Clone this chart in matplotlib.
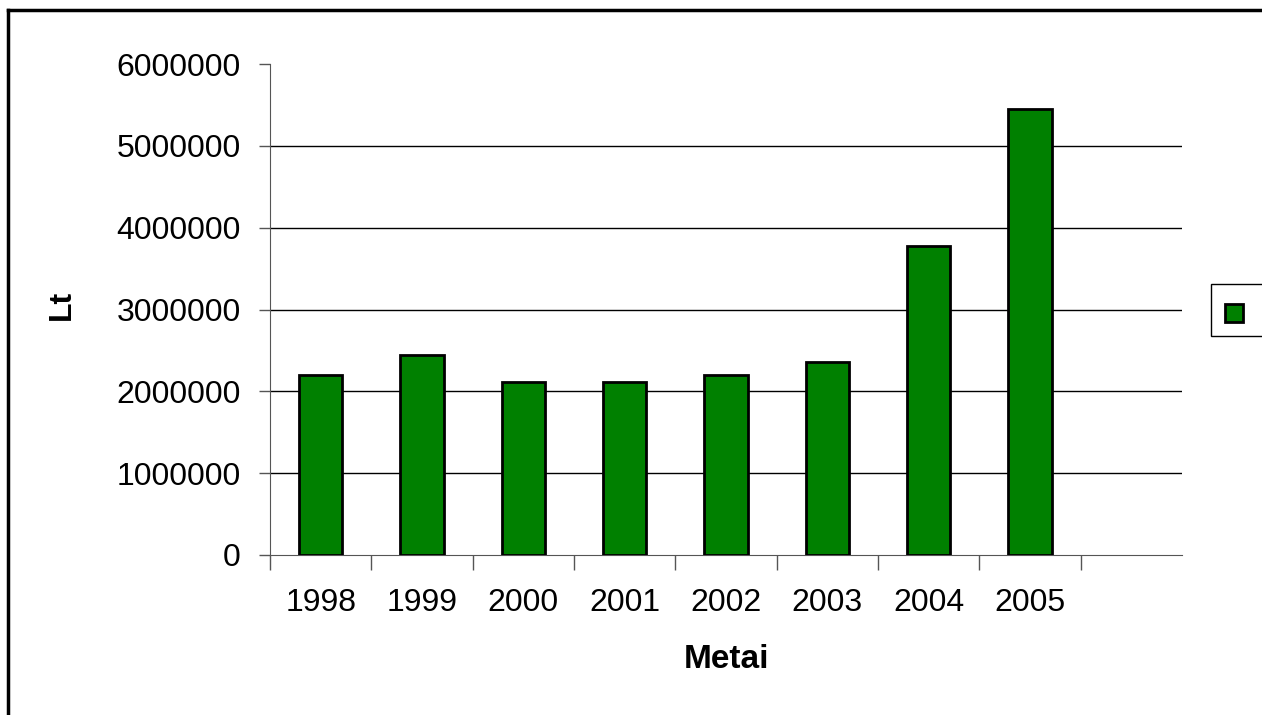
import matplotlib.pyplot as plt
from matplotlib.patches import Rectangle
from matplotlib.lines import Line2D

# data
years = ['1998', '1999', '2000', '2001', '2002', '2003', '2004', '2005', '']
values = [2200000, 2450000, 2110000, 2110000, 2200000, 2360000, 3780000, 5450000, 0]
yticks = [0, 1000000, 2000000, 3000000, 4000000, 5000000, 6000000]

plt.rcParams['font.family'] = ['Liberation Sans', 'DejaVu Sans']

fig = plt.figure(figsize=(12.62, 7.15), dpi=100)
ax = fig.add_axes([270 / 1262, 160 / 715, 912 / 1262, 491 / 715])

x = list(range(len(years)))
n_bars = 8
ax.bar(x[:n_bars], values[:n_bars], width=0.43, color='#008000',
       edgecolor='black', linewidth=2, zorder=3)

ax.set_xlim(-0.5, len(years) - 0.5)
ax.set_ylim(0, 6000000)
ax.set_yticks(yticks)
ax.set_yticklabels([str(v) for v in yticks], fontsize=23)
# gridlines only between the bottom and the top of the axis
ax.hlines(yticks[1:-1], -0.5, len(years) - 0.5, color='black', linewidth=1, zorder=1)

# category labels between boundary ticks
ax.set_xticks([i + 0.5 for i in x[:-1]] + [-0.5])
ax.set_xticklabels([])
ax.tick_params(axis='x', length=11, width=1, color='#555555', direction='out')
ax.tick_params(axis='y', length=8, width=1, color='#555555', pad=13)
for i, lab in enumerate(years):
    ax.text(i, -48 / 491, lab, transform=ax.get_xaxis_transform(),
            ha='center', va='center', fontsize=23)

for s in ['top', 'right']:
    ax.spines[s].set_visible(False)
ax.spines['left'].set_color('#555555')
ax.spines['bottom'].set_color('#555555')

fig.text(62 / 1262, 1 - 305 / 715, 'Lt', rotation=90, fontsize=23,
         fontweight='bold', ha='center', va='center')
fig.text(727 / 1262, 1 - 660 / 715, 'Metai', fontsize=24,
         fontweight='bold', ha='center', va='center')

# outer chart frame
fig.add_artist(Line2D([8 / 1262, 8 / 1262], [0, 1 - 10 / 715],
                      transform=fig.transFigure, color='black', linewidth=2.5))
fig.add_artist(Line2D([8 / 1262, 1], [1 - 10 / 715, 1 - 10 / 715],
                      transform=fig.transFigure, color='black', linewidth=2.5))

# legend box with an empty label
fig.add_artist(Rectangle((1211 / 1262, 1 - 336 / 715), 60 / 1262, 52 / 715,
                         transform=fig.transFigure, facecolor='white',
                         edgecolor='black', linewidth=1))
fig.add_artist(Line2D([1234 / 1262], [1 - 313 / 715], marker='s', markersize=13,
                      markerfacecolor='#008000', markeredgecolor='black',
                      markeredgewidth=2, transform=fig.transFigure))

fig.savefig('out.png', dpi=100)
